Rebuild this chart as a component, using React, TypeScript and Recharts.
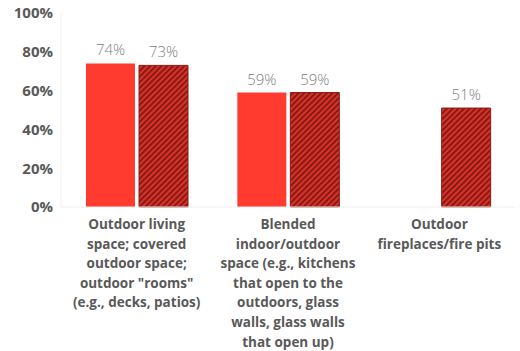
import { BarChart, Bar, XAxis, YAxis, LabelList } from "recharts"

const categories = [
  "Outdoor living\nspace; covered\noutdoor space;\noutdoor \"rooms\"\n(e.g., decks, patios)",
  "Blended\nindoor/outdoor\nspace (e.g., kitchens\nthat open to the\noutdoors, glass\nwalls, glass walls\nthat open up)",
  "Outdoor\nfireplaces/fire pits",
]
const seriesA = [74, 59, null]
const seriesB = [73, 59, 51]
const yTicks = [0, 20, 40, 60, 80, 100]

const data = categories.map((name, i) => ({ name, a: seriesA[i], b: seriesB[i] }))

const CatTick = (props: any) => {
  const { x, y, payload } = props
  const lines = String(payload.value).split("\n")
  return (
    <text x={x} y={y + 14} textAnchor="middle" fill="#595959" fontSize={13.5} fontWeight={700} fontFamily="'Open Sans', sans-serif">
      {lines.map((l, i) => (
        <tspan key={i} x={x} dy={i === 0 ? 0 : 19.6}>{l}</tspan>
      ))}
    </text>
  )
}

const labelStyle = { fill: "#808080", fontSize: 15, fontFamily: "'Open Sans', sans-serif", fontWeight: 300 }
const pct = (v: any) => (v == null ? "" : v + "%")

export default function App() {
  return (
    <div style={{ position: "absolute", left: 0, top: 0, background: "#fff" }}>
      <BarChart width={520} height={351} data={data} margin={{ top: 13, right: 5, bottom: 0, left: 1 }}
        barSize={49} barGap={4}>
        <defs>
          <pattern id="hatch" width="4" height="4" patternUnits="userSpaceOnUse" patternTransform="rotate(45)">
            <rect width="4" height="4" fill="#d9322a" />
            <rect width="1.8" height="4" fill="#7f1810" />
          </pattern>
        </defs>
        <XAxis dataKey="name" tick={<CatTick />} tickLine={false} axisLine={{ stroke: "#eeeeee" }} height={144} interval={0} />
        <YAxis domain={[0, 100]} ticks={yTicks} tickFormatter={(v) => v + "%"} width={60}
          tickLine={false} axisLine={{ stroke: "#f2f2f2" }}
          tick={{ fill: "#595959", fontSize: 15, fontWeight: 700, fontFamily: "'Open Sans', sans-serif" }} />
        <Bar dataKey="a" fill="#ff3b30" isAnimationActive={false}>
          <LabelList dataKey="a" position="top" offset={8} formatter={pct} style={labelStyle} />
        </Bar>
        <Bar dataKey="b" fill="url(#hatch)" stroke="#8a1a12" strokeWidth={1} isAnimationActive={false}>
          <LabelList dataKey="b" position="top" offset={8} formatter={pct} style={labelStyle} />
        </Bar>
      </BarChart>
    </div>
  )
}
